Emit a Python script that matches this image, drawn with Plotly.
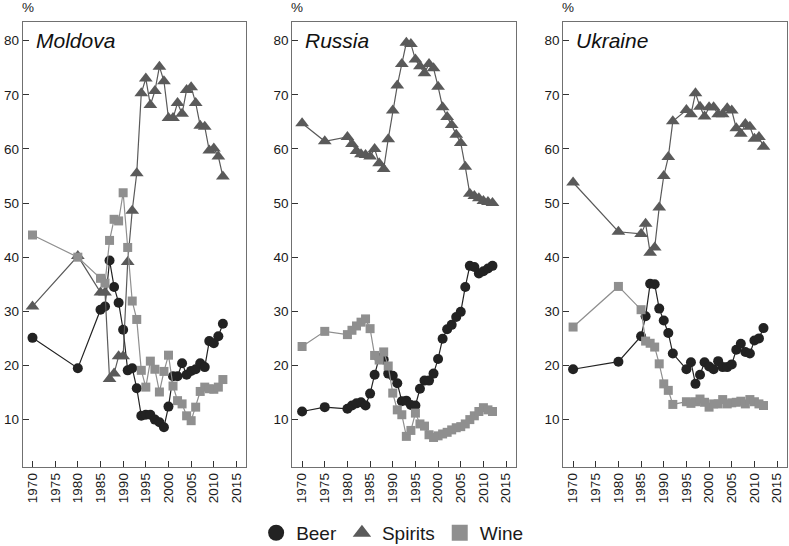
import plotly.graph_objects as go

# ---------------- data ----------------
countries = ["Moldova", "Russia", "Ukraine"]

years_moldova = [1970, 1980] + list(range(1985, 2013))
beer_moldova = [25.1, 19.5, 30.3, 30.9, 39.4, 34.5, 31.6, 26.6, 19.1, 19.5, 15.8, 10.7, 10.9, 10.9,
                10.0, 9.5, 8.6, 12.4, 18.0, 18.0, 20.4, 18.3, 19.0, 19.3, 20.4, 19.7, 24.5, 24.1, 25.4, 27.7]
spirits_moldova = [30.9, 40.2, 33.5, 33.5, 17.5, 18.5, 21.7, 21.7, 39.1, 48.6, 55.5, 70.3, 73.0, 68.1,
                   70.7, 75.2, 72.5, 65.7, 65.7, 68.5, 66.5, 70.9, 71.4, 68.5, 64.3, 64.1, 59.7, 60.1, 58.6, 54.9]
wine_moldova = [44.1, 40.0, 36.1, 35.2, 43.1, 47.0, 46.7, 51.9, 41.8, 31.9, 28.5, 19.1, 16.0, 20.8,
                19.3, 15.1, 18.9, 21.9, 16.2, 13.5, 12.9, 10.7, 9.8, 12.3, 15.2, 16.0, 15.7, 15.6, 16.0, 17.4]

years_russia = [1970, 1975] + list(range(1980, 2013))
beer_russia = [11.5, 12.3, 12.0, 12.6, 13.0, 13.2, 12.6, 14.8, 18.3, 21.4, 21.1, 18.5, 18.1, 16.7,
               13.4, 13.5, 12.7, 12.6, 15.7, 17.2, 17.2, 18.5, 21.2, 24.95, 26.7, 27.5, 28.95, 29.9,
               34.5, 38.4, 38.2, 37.0, 37.4, 37.9, 38.4]
spirits_russia = [64.75, 61.4, 62.2, 60.9, 59.6, 59.0, 58.9, 58.6, 60.0, 57.35, 56.3, 61.8, 67.1, 71.7,
                  75.7, 79.6, 79.4, 76.5, 75.25, 74.0, 75.7, 74.9, 71.5, 67.7, 65.9, 64.4, 62.6, 61.1,
                  56.7, 51.7, 51.3, 50.9, 50.4, 50.2, 50.0]
wine_russia = [23.5, 26.3, 25.7, 26.5, 27.3, 28.0, 28.6, 26.8, 21.85, 21.0, 22.5, 19.9, 14.9, 11.8,
               10.9, 6.9, 8.0, 11.2, 9.2, 8.8, 7.2, 6.7, 7.0, 7.35, 7.65, 8.1, 8.5, 8.7, 9.2, 10.0,
               10.7, 11.5, 12.2, 11.8, 11.5]

years_ukraine = [1970, 1980] + list(range(1985, 1993)) + list(range(1995, 2013))
beer_ukraine = [19.3, 20.7, 25.4, 29.1, 35.1, 35.0, 30.5, 28.3, 26.0, 22.2, 19.3, 20.6, 16.6, 18.3,
                20.6, 19.8, 19.3, 20.8, 19.7, 19.7, 20.2, 22.9, 24.0, 22.5, 22.2, 24.6, 25.0, 26.9]
spirits_ukraine = [53.8, 44.7, 44.3, 46.2, 40.8, 41.8, 49.2, 55.0, 58.5, 65.1, 67.2, 66.4, 70.3, 67.8,
                   66.0, 67.7, 67.7, 66.4, 66.4, 67.5, 67.1, 63.8, 62.8, 64.6, 64.1, 61.9, 62.2, 60.4]
wine_ukraine = [27.1, 34.6, 30.3, 24.5, 24.1, 23.4, 20.3, 16.6, 15.4, 12.8, 13.3, 13.0, 13.3, 13.8,
                13.2, 12.3, 12.9, 12.9, 13.7, 12.9, 13.1, 13.2, 13.4, 12.9, 13.7, 13.3, 12.9, 12.6]

x_ticks = [1970, 1975, 1980, 1985, 1990, 1995, 2000, 2005, 2010, 2015]
x_tick_labels = [str(v) for v in x_ticks]
y_ticks = [10, 20, 30, 40, 50, 60, 70, 80]
y_tick_labels = [str(v) for v in y_ticks]

# ---------------- styling ----------------
FONT = "Liberation Sans, Arial, sans-serif"
W, H = 789, 546
series_style = {
    "Beer": dict(color="#222222", symbol="circle", size=10),
    "Spirits": dict(color="#5a5a5a", symbol="triangle-up", size=12),
    "Wine": dict(color="#8f8f8f", symbol="square", size=9),
}
panel_px = [(22.7, 246.0), (292.3, 515.6), (563.3, 786.6)]
top_px, bottom_px = 21.7, 466.7

data = {
    "Moldova": (years_moldova, beer_moldova, spirits_moldova, wine_moldova),
    "Russia": (years_russia, beer_russia, spirits_russia, wine_russia),
    "Ukraine": (years_ukraine, beer_ukraine, spirits_ukraine, wine_ukraine),
}

fig = go.Figure()
for i, c in enumerate(countries):
    yrs, beer, spirits, wine = data[c]
    sfx = "" if i == 0 else str(i + 1)
    for name, vals in (("Beer", beer), ("Spirits", spirits), ("Wine", wine)):
        st = series_style[name]
        fig.add_trace(go.Scatter(
            x=yrs, y=vals, mode="lines+markers", name=name, showlegend=False,
            line=dict(color=st["color"], width=1.2),
            marker=dict(color=st["color"], symbol=st["symbol"], size=st["size"], line=dict(width=0)),
            xaxis="x" + sfx, yaxis="y" + sfx, cliponaxis=False,
        ))

# legend-only entries (markers only)
for name in ("Beer", "Spirits", "Wine"):
    st = series_style[name]
    fig.add_trace(go.Scatter(
        x=[None], y=[None], mode="markers", name=name, showlegend=True,
        marker=dict(color=st["color"], symbol=st["symbol"], size=16),
    ))

axis_common = dict(showline=True, linecolor="#707070", linewidth=1, mirror=True,
                   ticks="inside", ticklen=6, tickcolor="#333333", tickwidth=1,
                   showgrid=False, zeroline=False, automargin=False,
                   ticklabeloverflow="allow",
                   tickfont=dict(family=FONT, size=13.5, color="#1a1a1a"))

layout = dict(
    width=W, height=H, margin=dict(l=0, r=0, t=0, b=0, autoexpand=False),
    paper_bgcolor="white", plot_bgcolor="white",
    font=dict(family=FONT, color="#1a1a1a"),
    showlegend=True,
    legend=dict(orientation="h", x=0.497, xanchor="center", y=0.024, yanchor="middle",
                font=dict(family=FONT, size=19, color="#1a1a1a"), itemsizing="trace",
                bgcolor="rgba(0,0,0,0)"),
)
annotations = []
for i, c in enumerate(countries):
    sfx = "" if i == 0 else str(i + 1)
    l, r = panel_px[i]
    layout["xaxis" + sfx] = dict(axis_common, domain=[l / W, r / W], range=[1967.84, 2017.1],
                                 tickmode="array", tickvals=x_ticks, ticktext=x_tick_labels,
                                 tickangle=-90, anchor="y" + sfx)
    layout["yaxis" + sfx] = dict(axis_common, domain=[(H - bottom_px) / H, (H - top_px) / H],
                                 range=[1.3, 83.5], tickmode="array", tickvals=y_ticks,
                                 ticktext=y_tick_labels, anchor="x" + sfx)
    annotations.append(dict(text="<i>" + c + "</i>", xref=("x" + sfx) + " domain", yref="y" + sfx,
                            x=0.05, y=80, xanchor="left", yanchor="middle", showarrow=False,
                            font=dict(family=FONT, size=21, color="#111111")))
    annotations.append(dict(text="%", xref="paper", yref="paper", x=(l + 5) / W, y=(H - 8) / H,
                            xanchor="center", yanchor="middle", showarrow=False,
                            font=dict(family=FONT, size=13.5, color="#1a1a1a")))
layout["annotations"] = annotations
fig.update_layout(**layout)
fig.write_html("out.html", config={"displayModeBar": False},
               post_script="document.body.style.margin='0px';document.body.style.overflow='hidden';")
